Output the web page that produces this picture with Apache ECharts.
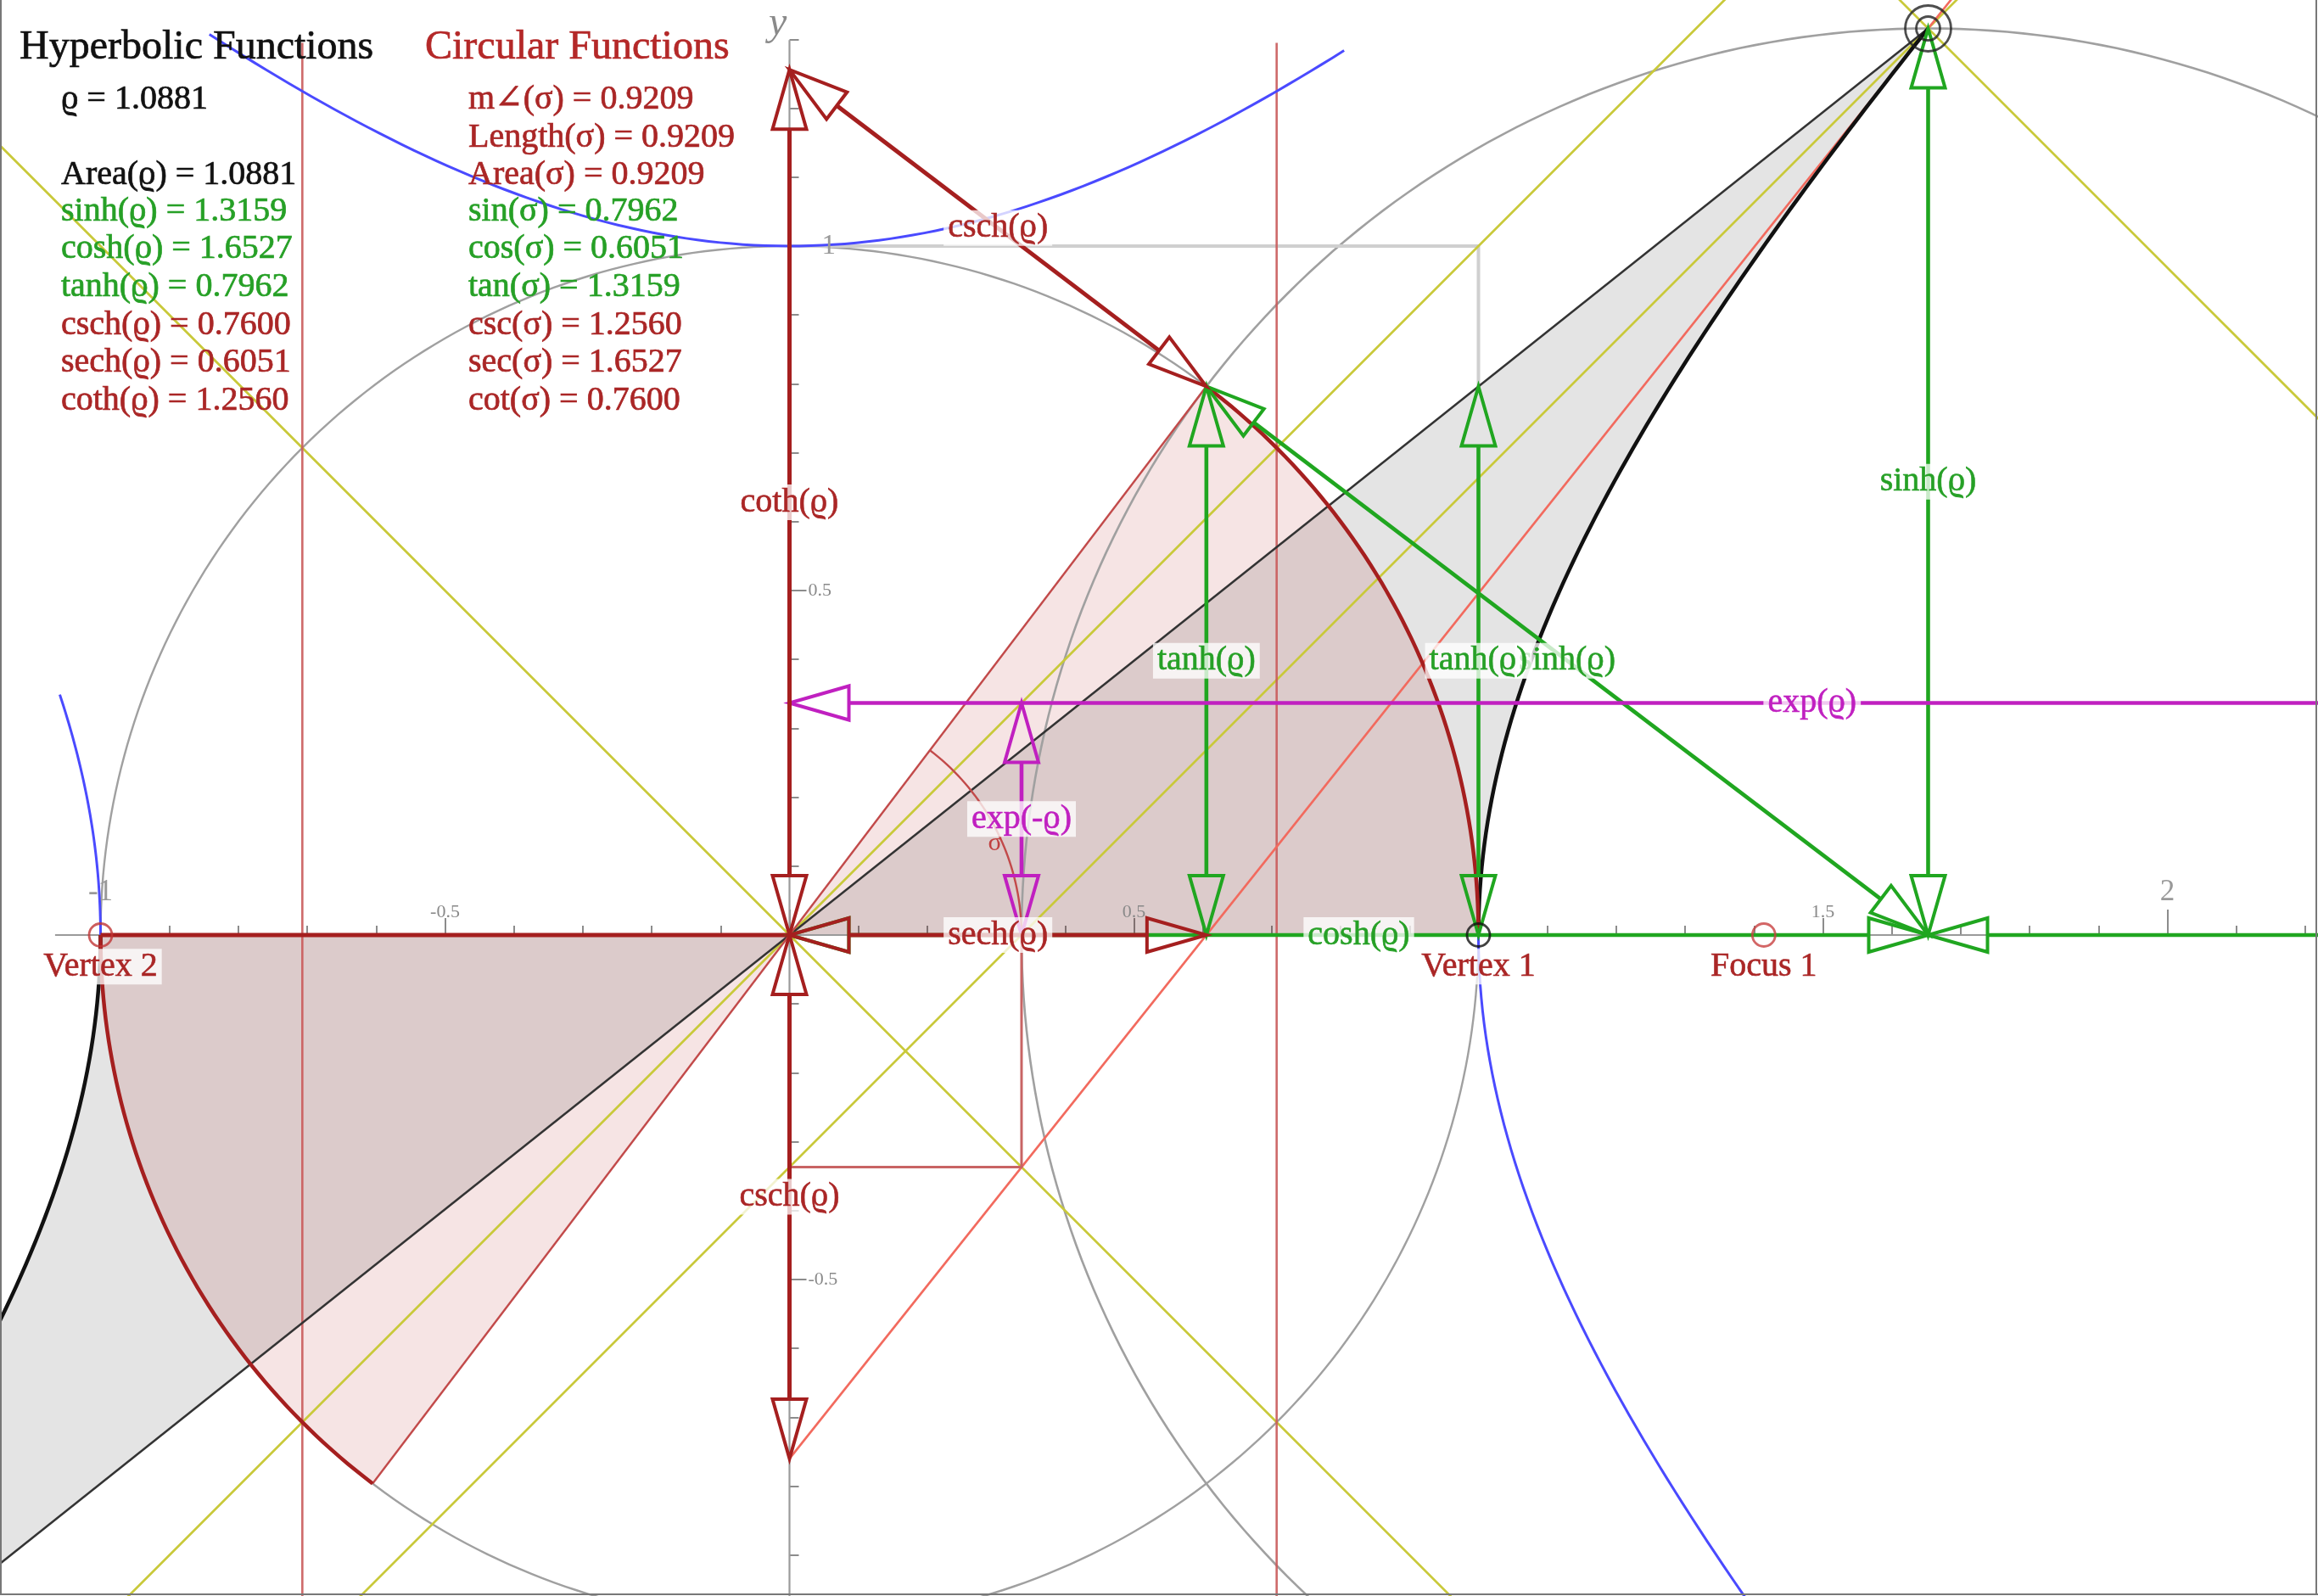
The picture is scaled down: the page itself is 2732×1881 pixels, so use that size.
<!DOCTYPE html>
<html>
<head>
<meta charset="utf-8">
<script src="https://cdn.jsdelivr.net/npm/echarts@6/dist/echarts.min.js"></script>
<style>
  html, body { margin: 0; padding: 0; background: #fff; }
  #chart { width: 2732px; height: 1881px; }
</style>
</head>
<body>
<div id="chart"></div>
<script>
// ---- values shown in the panel ----
const rhoValue = 1.0881;
const rhoArea = 1.0881;
const hyperbolicNames = ['sinh(ϱ)', 'cosh(ϱ)', 'tanh(ϱ)', 'csch(ϱ)', 'sech(ϱ)', 'coth(ϱ)'];
const hyperbolicValues = [1.3159, 1.6527, 0.7962, 0.7600, 0.6051, 1.2560];
const sigmaNames = ['m∠(σ)', 'Length(σ)', 'Area(σ)'];
const sigmaValues = [0.9209, 0.9209, 0.9209];
const circularNames = ['sin(σ)', 'cos(σ)', 'tan(σ)', 'csc(σ)', 'sec(σ)', 'cot(σ)'];
const circularValues = [0.7962, 0.6051, 1.3159, 1.2560, 1.6527, 0.7600];

// ---- tick labels ----
const xHalfTicks = [-0.5, 0.5, 1.5];
const xWholeTicks = [-1, 2];
const yHalfTicks = [-0.5, 0.5];
const yWholeTicks = [1];

// ---- named points and guide lines ----
const vertexPoints = [[1, 0], [-1, 0]];
const focusPoints = [[1.4142, 0]];
const diagonalGuidesX = [-0.7071, 0.7071];
const conjugateSpan = [-0.842, 0.805];
const leftBranchTop = 0.349;

// ---------------------------------------------------------------
const [SINH, COSH, TANH, CSCH, SECH, COTH] = hyperbolicValues;
const SIGMA = sigmaValues[0];
const EXP_P = COSH + SINH;   // exp(ϱ)
const EXP_M = COSH - SINH;   // exp(-ϱ)

const W = 2732, H = 1881, UNIT = 812, ORIGIN = [930.5, 1102];
// drawing grid (wide, so every construction maps through it)
const X_MIN = -2, X_MAX = 3, Y_MIN = -1, Y_MAX = 2;
// tick grid (ticks start at x = -1)
const TX_MIN = -1, TX_MAX = 3;

const FONT = '"Liberation Serif", "DejaVu Serif", "Times New Roman", serif';
const DARKRED = '#a51f1f';
const DARKRED_TEXT = '#aa2626';
const GREEN = '#20a620';
const GREEN_TEXT = '#26a026';
const MAGENTA = '#c020c0';
const BLUE = '#4a4aff';
const YELLOW = '#c9c93a';
const SALMON = '#f26a5e';
const THINRED = '#c95a5a';
const GRAY = '#a0a0a0';
const TICK_GRAY = '#8a8a8a';
const HIDDEN = 'rgba(0,0,0,0)';

// curve helpers (geometry of the unit circle / hyperbola)
function arc(cx, cy, r, a0, a1, n) {
  const pts = [];
  for (let i = 0; i <= n; i++) {
    const a = a0 + (a1 - a0) * i / n;
    pts.push([cx + r * Math.cos(a), cy + r * Math.sin(a)]);
  }
  return pts;
}
function hyperbolaByY(sign, y0, y1, n) {      // x^2 - y^2 = 1
  const pts = [];
  for (let i = 0; i <= n; i++) {
    const y = y0 + (y1 - y0) * i / n;
    pts.push([sign * Math.sqrt(1 + y * y), y]);
  }
  return pts;
}
function conjugateByX(x0, x1, n) {            // y^2 - x^2 = 1, upper branch
  const pts = [];
  for (let i = 0; i <= n; i++) {
    const x = x0 + (x1 - x0) * i / n;
    pts.push([x, Math.sqrt(1 + x * x)]);
  }
  return pts;
}
const mirror = pts => pts.map(p => [-p[0], -p[1]]);

function lineSeries(pts, color, width, z, opacity) {
  return {
    type: 'line', data: pts, symbol: 'none', showSymbol: false, silent: true,
    animation: false, clip: false, z: z,
    lineStyle: { color: color, width: width, opacity: opacity == null ? 1 : opacity, cap: 'butt', join: 'round' }
  };
}

// ---- filled regions ----
const hypSector = [[0, 0]].concat(hyperbolaByY(1, 0, SINH, 80));
const hypSectorLeft = mirror(hypSector);
const circSector = [[0, 0]].concat(arc(0, 0, 1, 0, SIGMA, 60));
const circSectorLeft = mirror(circSector);
const fills = [
  { pts: circSector, fill: 'rgba(178,34,34,0.12)' },
  { pts: circSectorLeft, fill: 'rgba(178,34,34,0.12)' },
  { pts: hypSector, fill: 'rgba(0,0,0,0.105)' },
  { pts: hypSectorLeft, fill: 'rgba(0,0,0,0.105)' }
];
const fillSeries = {
  type: 'custom', silent: true, animation: false, z: 1, clip: false,
  data: fills.map(() => [0, 0]),
  renderItem: (params, api) => {
    const f = fills[params.dataIndex];
    return { type: 'polygon', shape: { points: f.pts.map(p => api.coord(p)) }, style: { fill: f.fill, stroke: null } };
  }
};

// ---- arrows (double headed, hollow heads) ----
const HEAD_LEN = 70, HEAD_HALF = 20;
function arrowSeries(list, color, width, z) {
  return {
    type: 'custom', silent: true, animation: false, z: z, clip: false,
    data: list.map(a => [a[0][0], a[0][1]]),
    renderItem: (params, api) => {
      const a = list[params.dataIndex];
      const p0 = api.coord(a[0]), p1 = api.coord(a[1]);
      const dx = p1[0] - p0[0], dy = p1[1] - p0[1];
      const L = Math.hypot(dx, dy), ux = dx / L, uy = dy / L, nx = -uy, ny = ux;
      const b0 = [p0[0] + ux * HEAD_LEN, p0[1] + uy * HEAD_LEN];
      const b1 = [p1[0] - ux * HEAD_LEN, p1[1] - uy * HEAD_LEN];
      const head = (tip, b) => ({
        type: 'polygon',
        shape: { points: [tip, [b[0] + nx * HEAD_HALF, b[1] + ny * HEAD_HALF], [b[0] - nx * HEAD_HALF, b[1] - ny * HEAD_HALF]] },
        style: { fill: 'none', stroke: color, lineWidth: 4, lineJoin: 'miter' }
      });
      return {
        type: 'group', children: [
          { type: 'line', shape: { x1: b0[0], y1: b0[1], x2: b1[0], y2: b1[1] }, style: { stroke: color, lineWidth: width } },
          head(p0, b0), head(p1, b1)
        ]
      };
    }
  };
}
const greenArrows = [
  [[0, 0], [COSH, 0]],
  [[COSH, 0], [EXP_P, 0]],
  [[SECH, 0], [SECH, TANH]],
  [[1, 0], [1, TANH]],
  [[COSH, 0], [COSH, SINH]],
  [[SECH, TANH], [COSH, 0]]
];
const magentaArrows = [
  [[0, EXP_M], [EXP_P, EXP_M]],
  [[EXP_M, 0], [EXP_M, EXP_M]]
];
const redArrows = [
  [[0, 0], [0, COTH]],
  [[0, COTH], [SECH, TANH]],
  [[0, 0], [SECH, 0]],
  [[0, 0], [0, -CSCH]]
];

// ---- text placed at data positions ----
function labelSeries(defs, z, style) {
  return {
    type: 'scatter', silent: true, animation: false, z: z, symbolSize: 1,
    itemStyle: { color: HIDDEN, borderColor: HIDDEN },
    data: defs.map(d => ({
      value: d[1], name: d[0],
      label: { color: d[2], textBorderColor: d[2] }
    })),
    label: Object.assign({
      show: true, position: 'inside', formatter: '{b}', fontFamily: FONT, textBorderWidth: 0.6, opacity: 1
    }, style)
  };
}
const boxed = { fontSize: 40, backgroundColor: 'rgba(255,255,255,0.76)', padding: [1, 5, 1, 5] };
const figureLabels = [
  ['coth(ϱ)', [0, COTH / 2], DARKRED_TEXT],
  ['csch(ϱ)', [SECH / 2, (COTH + TANH) / 2], DARKRED_TEXT],
  ['sech(ϱ)', [SECH / 2, 0], DARKRED_TEXT],
  ['csch(ϱ)', [0, -CSCH / 2], DARKRED_TEXT],
  ['cosh(ϱ)', [COSH / 2, 0], GREEN_TEXT],
  ['tanh(ϱ)', [SECH, TANH / 2], GREEN_TEXT],
  ['sinh(ϱ)', [COSH, SINH / 2], GREEN_TEXT],
  ['sinh(ϱ)', [(SECH + COSH) / 2, TANH / 2], GREEN_TEXT],
  ['exp(ϱ)', [EXP_P / 2, EXP_M], MAGENTA],
  ['Vertex 1', [vertexPoints[0][0], -0.046], DARKRED_TEXT],
  ['Vertex 2', [vertexPoints[1][0], -0.046], DARKRED_TEXT],
  ['Focus 1', [focusPoints[0][0], -0.046], DARKRED_TEXT]
];
const topLabels = [
  ['tanh(ϱ)', [1, TANH / 2], GREEN_TEXT],
  ['exp(-ϱ)', [EXP_M, EXP_M / 2], MAGENTA]
];
const tickLabelSeries = [
  labelSeries(xHalfTicks.map(v => [String(v), [v, 0], TICK_GRAY]), 3, { fontSize: 22, offset: [0, -27], textBorderWidth: 0 }),
  labelSeries(xWholeTicks.map(v => [String(v), [v, 0], '#999']), 3, { fontSize: 35, offset: [0, -50], textBorderWidth: 0 }),
  labelSeries(yHalfTicks.map(v => [String(v), [0, v], TICK_GRAY]), 3, { fontSize: 22, align: 'left', offset: [22, 0], textBorderWidth: 0 }),
  labelSeries(yWholeTicks.map(v => [String(v), [0, v], '#999']), 3, { fontSize: 33, align: 'left', offset: [38, 0], textBorderWidth: 0 })
];

// ---- markers ----
const markerSeries = {
  type: 'scatter', silent: true, animation: false, z: 12, symbol: 'circle',
  data: [
    { value: vertexPoints[0], symbolSize: 27, itemStyle: { borderColor: '#111' } },
    { value: vertexPoints[1], symbolSize: 27, itemStyle: { borderColor: '#c03535' } },
    { value: focusPoints[0], symbolSize: 27, itemStyle: { borderColor: '#c84040' } },
    { value: [COSH, SINH], symbolSize: 28, itemStyle: { borderColor: '#222' } },
    { value: [COSH, SINH], symbolSize: 54, itemStyle: { borderColor: '#222' } }
  ],
  itemStyle: { color: HIDDEN, borderWidth: 2.8 }
};

// ---- panel text ----
function text(str, x, yMid, color, size) {
  return {
    type: 'text', x: x, y: yMid, silent: true, z: 50,
    style: {
      text: str, fill: color, stroke: color, lineWidth: 0.7, font: size + 'px ' + FONT,
      textAlign: 'left', textVerticalAlign: 'middle', align: 'left', verticalAlign: 'middle'
    }
  };
}
const rowMid = [249, 293, 338, 383, 427, 472];
const sigmaRowMid = [117, 162, 206];
const panel = [
  text('Hyperbolic Functions', 23, 56, '#111', 48),
  text('Circular Functions', 501, 56, '#b42828', 48),
  text('ϱ = ' + rhoValue.toFixed(4), 72, sigmaRowMid[0], '#111', 40),
  text('Area(ϱ) = ' + rhoArea.toFixed(4), 72, sigmaRowMid[2], '#111', 40)
];
sigmaNames.forEach((n, i) => panel.push(text(n + ' = ' + sigmaValues[i].toFixed(4), 552, sigmaRowMid[i], DARKRED_TEXT, 40)));
hyperbolicNames.forEach((n, i) => panel.push(text(n + ' = ' + hyperbolicValues[i].toFixed(4), 72, rowMid[i], i < 3 ? GREEN_TEXT : DARKRED_TEXT, 40)));
circularNames.forEach((n, i) => panel.push(text(n + ' = ' + circularValues[i].toFixed(4), 552, rowMid[i], i < 3 ? GREEN_TEXT : DARKRED_TEXT, 40)));
// frame
panel.push({ type: 'line', silent: true, z: 60, shape: { x1: 1, y1: 0, x2: 1, y2: H - 1 }, style: { stroke: '#777', lineWidth: 2 } });
panel.push({ type: 'line', silent: true, z: 60, shape: { x1: W - 2, y1: 0, x2: W - 2, y2: H - 1 }, style: { stroke: '#777', lineWidth: 2 } });
panel.push({ type: 'line', silent: true, z: 60, shape: { x1: 0, y1: H - 2, x2: W, y2: H - 2 }, style: { stroke: '#777', lineWidth: 2 } });

// ---- axes ----
// grid 0 carries the drawing; grid 1 carries the tick marks on the zero lines
function hiddenAxis(min, max) {
  return { type: 'value', gridIndex: 0, min: min, max: max, show: false, splitLine: { show: false } };
}
function tickAxis(dim, step, tickLen, minor) {
  return {
    type: 'value', gridIndex: 1,
    min: dim === 'x' ? TX_MIN : Y_MIN, max: dim === 'x' ? TX_MAX : Y_MAX, interval: step,
    position: dim === 'x' ? 'bottom' : 'left',
    axisLine: { show: false, onZero: true, onZeroAxisIndex: 1 },
    axisTick: { show: true, inside: true, length: tickLen, lineStyle: { color: '#8c8c8c', width: 2 } },
    minorTick: { show: minor, splitNumber: 5, length: 11, lineStyle: { color: '#8c8c8c', width: 2 } },
    splitLine: { show: false }, minorSplitLine: { show: false },
    axisLabel: { show: false },
    silent: true, z: 0
  };
}

const series = [
  fillSeries,
  // circles and the unit square corner
  lineSeries(arc(0, 0, 1, 0, 2 * Math.PI, 360), GRAY, 2.4, 2),
  lineSeries(arc(COSH, 0, SINH, 0, 2 * Math.PI, 360), GRAY, 2.6, 2),
  lineSeries([[0, 1], [1, 1], [1, TANH]], '#cfcfcf', 4, 2),
  // coordinate axes
  lineSeries([[-1.066, 0], [2.4, 0]], '#9a9a9a', 2.2, 2),
  lineSeries([[0, 1.299], [0, -1.1]], '#9a9a9a', 2.2, 2),
  // asymptotes and their parallels
  lineSeries([[-1.3, -1.3], [1.6, 1.6]], YELLOW, 2.7, 3),
  lineSeries([[-1.3, 1.3], [1.2, -1.2]], YELLOW, 2.7, 3),
  lineSeries([[-0.8, -0.8 - EXP_M], [1.9, 1.9 - EXP_M]], YELLOW, 2.7, 3),
  lineSeries([[1.45, EXP_P - 1.45], [2.4, EXP_P - 2.4]], YELLOW, 2.7, 3),
  // vertical guides through x = ±1/√2
  lineSeries([[diagonalGuidesX[0], 1.295], [diagonalGuidesX[0], -1.1]], THINRED, 2.6, 3, 0.9),
  lineSeries([[diagonalGuidesX[1], 1.295], [diagonalGuidesX[1], -1.1]], THINRED, 2.6, 3, 0.9),
  // tangent line through (0, -csch) and (cosh, sinh)
  lineSeries([[0, -CSCH], [(1.45 + CSCH) / COTH, 1.45]], SALMON, 2.6, 3),
  // remaining hyperbola pieces
  lineSeries(conjugateByX(conjugateSpan[0], conjugateSpan[1], 100), BLUE, 3, 3),
  lineSeries(hyperbolaByY(-1, 0, leftBranchTop, 40), BLUE, 3, 3),
  lineSeries(hyperbolaByY(1, 0, -1.1, 60), BLUE, 3, 3),
  // radii and small constructions
  lineSeries([[0, 0], [COSH, SINH]], '#333', 2.5, 4),
  lineSeries([[0, 0], [-COSH, -SINH]], '#333', 2.5, 4),
  lineSeries([[0, 0], [SECH, TANH]], '#c24a4a', 2.4, 4),
  lineSeries([[0, 0], [-SECH, -TANH]], '#c24a4a', 2.4, 4),
  lineSeries(arc(0, 0, EXP_M, 0, SIGMA, 40), '#c24a4a', 2.4, 4),
  lineSeries([[0, -EXP_M], [EXP_M, -EXP_M], [EXP_M, 0]], '#c86464', 3, 4),
  // hyperbola arcs and circle arcs of the sectors
  lineSeries(hyperbolaByY(1, 0, SINH, 80), '#111', 4.5, 5),
  lineSeries(hyperbolaByY(-1, 0, -SINH, 80), '#111', 4.5, 5),
  lineSeries(arc(0, 0, 1, 0, SIGMA, 60), DARKRED, 4.5, 5),
  lineSeries(arc(0, 0, 1, Math.PI, Math.PI + SIGMA, 60), DARKRED, 4.5, 5),
  lineSeries([[-1, 0], [0, 0]], DARKRED, 5, 5),
  // arrows
  arrowSeries(greenArrows, GREEN, 4.6, 6),
  arrowSeries(magentaArrows, MAGENTA, 4.6, 7),
  arrowSeries(redArrows, DARKRED, 5, 8),
  markerSeries,
  // angle mark and labels
  labelSeries([['σ', [0.298, 0.133], '#c04040']], 13, { fontSize: 30, textBorderWidth: 0 }),
  labelSeries(figureLabels, 14, boxed),
  labelSeries(topLabels, 15, boxed),
  labelSeries([['y', [-0.017, 1.322], TICK_GRAY]], 15, { fontSize: 48, fontStyle: 'italic', textBorderWidth: 0 })
].concat(tickLabelSeries);

const chart = echarts.init(document.getElementById('chart'), null, { renderer: 'canvas', width: W, height: H });
chart.setOption({
  backgroundColor: '#ffffff',
  animation: false,
  grid: [
    {
      left: ORIGIN[0] + X_MIN * UNIT, top: ORIGIN[1] - Y_MAX * UNIT,
      width: (X_MAX - X_MIN) * UNIT, height: (Y_MAX - Y_MIN) * UNIT,
      containLabel: false, outerBoundsMode: 'none', show: false
    },
    {
      left: ORIGIN[0] + TX_MIN * UNIT, top: ORIGIN[1] - Y_MAX * UNIT,
      width: (TX_MAX - TX_MIN) * UNIT, height: (Y_MAX - Y_MIN) * UNIT,
      containLabel: false, outerBoundsMode: 'none', show: false
    }
  ],
  xAxis: [
    hiddenAxis(X_MIN, X_MAX),
    tickAxis('x', 0.5, 20, true),
    tickAxis('x', 1, 30, false)
  ],
  yAxis: [
    hiddenAxis(Y_MIN, Y_MAX),
    tickAxis('y', 0.5, 20, true),
    tickAxis('y', 1, 30, false)
  ],
  graphic: panel,
  series: series
});
</script>
</body>
</html>
